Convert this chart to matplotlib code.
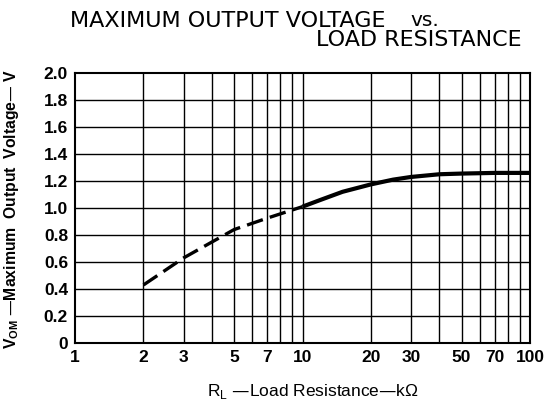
import matplotlib
matplotlib.use("Agg")
import matplotlib.pyplot as plt
from matplotlib.ticker import FixedLocator, NullFormatter

plt.rcParams['font.family'] = ['Liberation Sans', 'DejaVu Sans']

# curve: R_L in kOhm, V_OM in volts
r_dash = [2, 3, 5, 7, 10]
v_dash = [0.43, 0.63, 0.84, 0.925, 1.01]
r_solid = [10, 12, 15, 20, 25, 30, 40, 50, 70, 100]
v_solid = [1.01, 1.06, 1.12, 1.175, 1.21, 1.23, 1.25, 1.255, 1.26, 1.26]

x_ticks = [1, 2, 3, 5, 7, 10, 20, 30, 50, 70, 100]
x_grid = [2, 3, 4, 5, 6, 7, 8, 9, 10, 20, 30, 40, 50, 60, 70, 80, 90]
y_ticks = [0, 0.2, 0.4, 0.6, 0.8, 1.0, 1.2, 1.4, 1.6, 1.8, 2.0]
y_labels = ['0', '0.2', '0.4', '0.6', '0.8', '1.0', '1.2', '1.4', '1.6', '1.8', '2.0']

fig = plt.figure(figsize=(5.52, 4.07), dpi=100)
ax = fig.add_axes([75 / 552, 1 - 343 / 407, 455 / 552, 270 / 407])

ax.set_xscale('log')
ax.set_xlim(1, 100)
ax.set_ylim(0, 2.0)

for xv in x_grid:
    ax.axvline(xv, color='black', lw=1.0, zorder=1)
for yv in y_ticks[1:-1]:
    ax.axhline(yv, color='black', lw=1.0, zorder=1)

ax.plot(r_dash, v_dash, color='black', lw=2.4, ls=(0, (5, 2.2)), zorder=3)
ax.plot(r_solid, v_solid, color='black', lw=3.0, solid_capstyle='butt', zorder=3)

ax.xaxis.set_major_locator(FixedLocator(x_ticks))
ax.xaxis.set_minor_locator(FixedLocator([]))
ax.xaxis.set_minor_formatter(NullFormatter())
ax.set_xticklabels([str(v) for v in x_ticks])
ax.set_yticks(y_ticks)
ax.set_yticklabels(y_labels)
ax.tick_params(length=0, labelsize=12.5, pad=5)
for lab in ax.get_xticklabels() + ax.get_yticklabels():
    lab.set_fontweight('bold')
for sp in ax.spines.values():
    sp.set_linewidth(1.5)

ax.set_xlabel('R$_\\mathregular{L}$ —Load Resistance—kΩ', fontsize=12.5)
ax.xaxis.set_label_coords(0.524, -0.145)
ax.set_ylabel('V$_\\mathregular{OM}$ —Maximum  Output  Voltage— V', fontsize=11.3,
              fontweight='bold')
ax.yaxis.set_label_coords(-0.118, 0.495)

fig.text(70 / 552, 1 - 21 / 407, 'MAXIMUM OUTPUT VOLTAGE', fontsize=16,
         family='DejaVu Sans', ha='left', va='center')
fig.text(410 / 552, 1 - 21 / 407, 'vs.', fontsize=14.5,
         family='DejaVu Sans', ha='left', va='center')
fig.text(522 / 552, 1 - 40 / 407, 'LOAD RESISTANCE', fontsize=16,
         family='DejaVu Sans', ha='right', va='center')

fig.savefig('out.png', dpi=100)
